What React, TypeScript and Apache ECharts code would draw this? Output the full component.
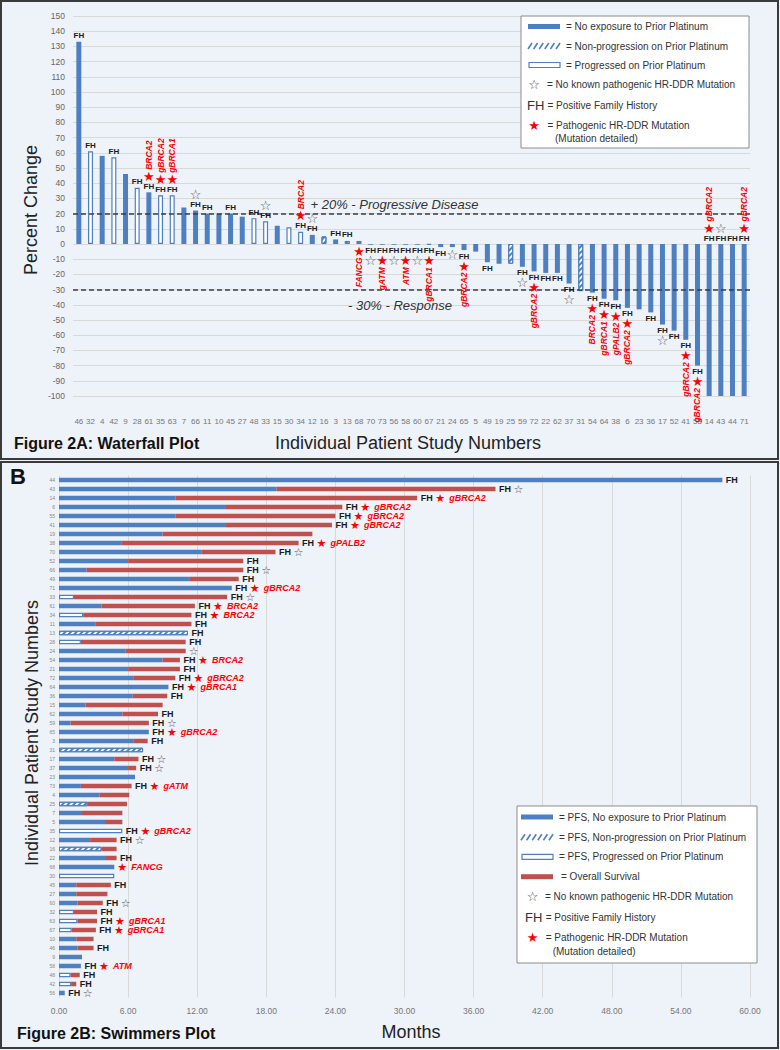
import React, { useEffect, useRef } from "react";
import * as echarts from "echarts";

// ---------- Waterfall (Figure 2A) ----------
const wfPatients = ["46","32","4","42","9","28","61","35","63","7","66","11","10","45","27","48","33","15","30","34","12","16","3","13","68","70","73","56","58","60","67","21","24","65","5","49","19","25","59","72","22","62","37","31","54","64","38","6","23","36","17","52","41","55","14","43","44","71"];
const wfChange = [133,61,58,57,46,37,34,32,32,24,22,20,20,20,18,17,15,12,11,8,6,5,3,2,2,-0.5,-0.5,-0.5,-0.5,-0.5,-0.5,-2,-2,-4,-5,-12,-13,-13,-15,-18,-19,-19,-26,-31,-32,-36,-37,-42,-43,-45,-53,-57,-63,-80,-100,-100,-100,-100];
const wfTicks = { min: -100, max: 150, step: 10 };
const thresholdLines = [20, -30];
const thresholdLabels = ["+ 20% - Progressive Disease", "- 30% - Response"];

// ---------- Swimmers (Figure 2B) ----------
const swPatients = ["44","43","14","6","55","41","19","38","70","52","66","49","71","33","61","34","11","13","28","24","54","21","72","64","36","15","62","59","65","3","31","17","37","23","73","4","25","7","5","35","12","16","22","68","30","45","27","60","32","63","67","10","46","9","58","48","42","56"];
const swPFS = [57.6,18.9,10.1,14.5,10.1,14.5,9.0,5.4,12.4,6.0,2.4,11.3,15.0,1.3,3.7,2.1,3.2,11.2,1.9,5.8,9.0,6.0,6.5,9.5,6.4,2.3,5.5,1.0,7.8,6.5,7.3,4.8,6.0,6.6,1.9,3.5,2.5,2.0,4.0,5.5,2.7,3.7,4.0,4.8,4.8,1.5,1.5,1.6,1.3,1.6,1.1,1.5,1.6,2.0,1.9,1.0,1.05,0.5];
const swOS = [57.6,37.9,31.1,24.6,24.0,23.7,22.0,20.8,18.8,16.0,16.0,15.6,15.0,14.6,11.8,11.5,11.5,11.2,11.0,11.0,10.5,10.5,10.1,9.5,9.4,9.0,8.6,7.8,7.8,7.7,7.3,6.9,6.7,6.6,6.3,6.1,5.9,5.5,5.5,5.5,5.0,5.0,5.0,4.8,4.8,4.5,4.2,3.8,3.3,3.3,3.2,3.0,3.0,2.0,1.9,1.8,1.5,0.5];
const monthTicks = { min: 0, max: 60, step: 6 };

// ---------- Patient attributes ----------
const hatchedPatients = ["13","31","25","16"];
const hollowPatients = ["32","42","28","35","63","48","33","30","34","67"];
const fhPatients = ["44","43","14","6","55","41","38","70","52","66","49","71","33","61","34","11","13","28","54","21","72","64","36","62","59","65","3","17","37","73","35","12","22","45","60","32","63","67","46","58","48","42","56"];
const noMutationPatients = ["43","70","66","33","24","59","17","37","12","60","56"];
const mutationPatients = ["14","6","55","41","38","71","61","34","54","72","64","65","73","35","68","63","67","58"];
const mutationGenes = ["gBRCA2","gBRCA2","gBRCA2","gBRCA2","gPALB2","gBRCA2","BRCA2","BRCA2","BRCA2","gBRCA2","gBRCA1","gBRCA2","gATM","gBRCA2","FANCG","gBRCA1","gBRCA1","ATM"];
const labelsBelowZero = ["68"];

const BLUE = "#4e7fc1";
const RED = "#c0504d";
const STAR_RED = "#ff0000";
const FONT = "Liberation Sans, Arial, sans-serif";
const BG = "#eef2f9";

const hatchDecal = {
  symbol: "rect",
  symbolSize: 1,
  color: BLUE,
  backgroundColor: "#ffffff",
  dashArrayX: [1, 0],
  dashArrayY: [2, 2],
  rotation: -Math.PI / 4,
};

function pfsStyle(pid: string): any {
  if (hatchedPatients.includes(pid)) return { color: "#ffffff", borderColor: BLUE, borderWidth: 1, decal: hatchDecal };
  if (hollowPatients.includes(pid)) return { color: "#ffffff", borderColor: BLUE, borderWidth: 1.2 };
  return { color: BLUE };
}

function txt(x: number, y: number, text: string, o: any = {}) {
  const align = o.align || "left";
  const va = o.verticalAlign || "middle";
  return {
    type: "text",
    x,
    y,
    rotation: o.rotation || 0,
    z: o.z ?? 100,
    silent: true,
    style: {
      text,
      fontSize: o.fontSize || 10,
      fontWeight: o.fontWeight || "normal",
      fontStyle: o.fontStyle || "normal",
      fontFamily: o.fontFamily || FONT,
      fill: o.fill || "#333",
      align,
      textAlign: align,
      verticalAlign: va,
      textVerticalAlign: va,
      lineHeight: o.lineHeight,
    },
  };
}

function hatchSwatch(x: number, y: number) {
  const els: any[] = [];
  for (let k = 0; k < 6; k++) {
    const sx = x + k * 5.6;
    els.push({ type: "line", z: 101, silent: true, shape: { x1: sx, y1: y + 3, x2: sx + 4, y2: y - 3 }, style: { stroke: BLUE, lineWidth: 1.6 } });
  }
  return els;
}

const STAR_FONT = "DejaVu Sans";

function legendA() {
  const L = 521, T = 16;
  return [
    { type: "rect", z: 99, silent: true, shape: { x: L, y: T, width: 228, height: 132 }, style: { fill: "#ffffff", stroke: "#8c8c8c", lineWidth: 1 } },
    { type: "rect", z: 101, silent: true, shape: { x: L + 7, y: T + 8, width: 32, height: 5 }, style: { fill: BLUE } },
    txt(L + 45, T + 10.5, "= No exposure to Prior Platinum"),
    ...hatchSwatch(L + 7, T + 30),
    txt(L + 45, T + 30, "= Non-progression on Prior Platinum"),
    { type: "rect", z: 101, silent: true, shape: { x: L + 8, y: T + 46.5, width: 31, height: 5 }, style: { fill: "#ffffff", stroke: BLUE, lineWidth: 1.2 } },
    txt(L + 45, T + 49, "= Progressed on Prior Platinum"),
    txt(L + 13, T + 68, "☆", { align: "center", fontFamily: STAR_FONT, fontSize: 13, fill: "#444" }),
    txt(L + 26, T + 68, "= No known pathogenic HR-DDR Mutation"),
    txt(L + 6, T + 89, "FH", { fontSize: 13, fill: "#333" }),
    txt(L + 26.5, T + 89, "= Positive Family History"),
    txt(L + 13, T + 109.5, "★", { align: "center", fontFamily: STAR_FONT, fontSize: 13, fill: STAR_RED }),
    txt(L + 26.5, T + 109.5, "= Pathogenic HR-DDR Mutation"),
    txt(L + 34, T + 122.5, "(Mutation detailed)"),
  ];
}

function legendB() {
  const L = 517, T = 806;
  return [
    { type: "rect", z: 99, silent: true, shape: { x: L, y: T, width: 240, height: 157 }, style: { fill: "#ffffff", stroke: "#8c8c8c", lineWidth: 1 } },
    { type: "rect", z: 101, silent: true, shape: { x: L + 4, y: T + 8.5, width: 32, height: 5 }, style: { fill: BLUE } },
    txt(L + 42, T + 11, "= PFS, No exposure to Prior Platinum"),
    ...hatchSwatch(L + 4, T + 31.3),
    txt(L + 42, T + 31.3, "= PFS, Non-progression on Prior Platinum"),
    { type: "rect", z: 101, silent: true, shape: { x: L + 5, y: T + 48.3, width: 31, height: 5 }, style: { fill: "#ffffff", stroke: BLUE, lineWidth: 1.2 } },
    txt(L + 42, T + 50.7, "= PFS, Progressed on Prior Platinum"),
    { type: "rect", z: 101, silent: true, shape: { x: L + 4, y: T + 68.2, width: 32, height: 5 }, style: { fill: RED } },
    txt(L + 44, T + 70.7, "= Overall Survival"),
    txt(L + 15.7, T + 90, "☆", { align: "center", fontFamily: STAR_FONT, fontSize: 13, fill: "#444" }),
    txt(L + 28, T + 90, "= No known pathogenic HR-DDR Mutation"),
    txt(L + 8, T + 111.3, "FH", { fontSize: 13, fill: "#333" }),
    txt(L + 28.7, T + 111.3, "= Positive Family History"),
    txt(L + 15.7, T + 131.7, "★", { align: "center", fontFamily: STAR_FONT, fontSize: 13, fill: STAR_RED }),
    txt(L + 28.7, T + 131.7, "= Pathogenic HR-DDR Mutation"),
    txt(L + 35.7, T + 145.7, "(Mutation detailed)"),
  ];
}

function wfAnnot(params: any, api: any) {
  const i = params.dataIndex;
  const pid = wfPatients[i];
  const v = wfChange[i];
  const forcedBelow = labelsBelowZero.includes(pid);
  const atZero = v <= wfTicks.min || forcedBelow;
  const up = forcedBelow ? false : v > 0 || v <= wfTicks.min;
  const pt = api.coord([i, atZero ? 0 : v]);
  const x = pt[0];
  const y0 = pt[1];
  const d = up ? -1 : 1;
  const fh = fhPatients.includes(pid);
  const open = noMutationPatients.includes(pid);
  const mi = mutationPatients.indexOf(pid);
  const kids: any[] = [];
  if (fh) kids.push(txt(x, y0 + d * 6, "FH", { align: "center", fontSize: 8, fontWeight: "bold", fill: "#1a1a1a", z: 0 }));
  if (open || mi >= 0) {
    const sy = y0 + d * (fh ? 16 : 7);
    kids.push(txt(x, sy, open ? "☆" : "★", { align: "center", fontFamily: STAR_FONT, fontSize: 13, fill: open ? "#555" : STAR_RED, z: 0, lineHeight: 10 }));
    if (mi >= 0) {
      kids.push(txt(x, sy + d * 6.5, mutationGenes[mi], { rotation: Math.PI / 2, align: up ? "left" : "right", fontSize: 8.5, fontWeight: "bold", fontStyle: "italic", fill: STAR_RED, z: 0 }));
    }
  }
  return { type: "group", children: kids };
}

function swAnnot(params: any, api: any) {
  const i = params.dataIndex;
  const pid = swPatients[i];
  const pt = api.coord([swOS[i], i]);
  const x0 = pt[0];
  const y = pt[1];
  const fh = fhPatients.includes(pid);
  const open = noMutationPatients.includes(pid);
  const mi = mutationPatients.indexOf(pid);
  const kids: any[] = [];
  if (fh) kids.push(txt(x0 + 3.5, y, "FH", { fontSize: 9, fontWeight: "bold", fill: "#1a1a1a", z: 0, lineHeight: 9 }));
  if (open || mi >= 0) {
    const sx = x0 + (fh ? 23 : 8);
    kids.push(txt(sx, y, open ? "☆" : "★", { align: "center", fontFamily: STAR_FONT, fontSize: 11, fill: open ? "#555" : STAR_RED, z: 0, lineHeight: 9 }));
    if (mi >= 0) kids.push(txt(sx + 9, y, mutationGenes[mi], { fontSize: 9, fontWeight: "bold", fontStyle: "italic", fill: STAR_RED, z: 0, lineHeight: 9 }));
  }
  return { type: "group", children: kids };
}

function buildOption(): any {
  const gridLine = { show: true, lineStyle: { color: "#d9d9d9", width: 1 } };
  const swOSRemainder = swOS.map((o, i) => Math.max(0, +(o - swPFS[i]).toFixed(2)));
  return {
    animation: false,
    backgroundColor: BG,
    textStyle: { fontFamily: FONT },
    grid: [
      { left: 73, top: 16, width: 677, height: 380 },
      { left: 59, top: 475.5, width: 691, height: 522 },
    ],
    xAxis: [
      {
        gridIndex: 0,
        type: "category",
        data: wfPatients,
        axisLine: { show: false, onZero: false },
        axisTick: { show: false },
        axisLabel: { interval: 0, fontSize: 8, color: "#777", margin: 21 },
      },
      {
        gridIndex: 1,
        type: "value",
        min: monthTicks.min,
        max: monthTicks.max,
        interval: monthTicks.step,
        axisLine: { show: false },
        axisTick: { show: false },
        splitLine: gridLine,
        axisLabel: { fontSize: 8.5, color: "#777", margin: 9, formatter: (v: number) => v.toFixed(2) },
      },
    ],
    yAxis: [
      {
        gridIndex: 0,
        type: "value",
        min: wfTicks.min,
        max: wfTicks.max,
        interval: wfTicks.step,
        axisLine: { show: false },
        axisTick: { show: false },
        splitLine: gridLine,
        axisLabel: { fontSize: 8.5, color: "#666", margin: 8 },
      },
      {
        gridIndex: 1,
        type: "category",
        data: swPatients,
        inverse: true,
        axisLine: { show: false },
        axisTick: { show: false },
        splitLine: { show: false },
        axisLabel: { interval: 0, fontSize: 5, color: "#888", margin: 4 },
      },
    ],
    series: [
      {
        type: "bar",
        xAxisIndex: 0,
        yAxisIndex: 0,
        barWidth: 5,
        data: wfChange.map((v, i) => ({ value: v, itemStyle: pfsStyle(wfPatients[i]) })),
        markLine: {
          silent: true,
          symbol: ["none", "none"],
          lineStyle: { type: [5, 3], color: "#3d3d3d", width: 1.5 },
          data: [
            {
              yAxis: thresholdLines[0],
              label: { show: true, position: "insideMiddleTop", formatter: thresholdLabels[0], fontStyle: "italic", fontSize: 13, color: "#333", distance: 3, padding: [0, 34, 0, 0] },
            },
            {
              yAxis: thresholdLines[1],
              label: { show: true, position: "insideMiddleBottom", formatter: thresholdLabels[1], fontStyle: "italic", fontSize: 13, color: "#333", distance: 9, padding: [0, 23, 0, 0] },
            },
          ],
        },
      },
      {
        type: "custom",
        xAxisIndex: 0,
        yAxisIndex: 0,
        z: 5,
        data: wfChange.map((v, i) => [i, v]),
        encode: { x: 0, y: 1 },
        renderItem: wfAnnot,
      },
      {
        type: "bar",
        xAxisIndex: 1,
        yAxisIndex: 1,
        stack: "sw",
        barWidth: 4.5,
        data: swPFS.map((v, i) => ({ value: v, itemStyle: pfsStyle(swPatients[i]) })),
      },
      {
        type: "bar",
        xAxisIndex: 1,
        yAxisIndex: 1,
        stack: "sw",
        barWidth: 4.5,
        itemStyle: { color: RED },
        data: swOSRemainder,
      },
      {
        type: "custom",
        xAxisIndex: 1,
        yAxisIndex: 1,
        z: 5,
        data: swOS.map((v, i) => [v, i]),
        encode: { x: 0, y: 1 },
        renderItem: swAnnot,
      },
    ],
    graphic: [
      { type: "rect", z: 120, silent: true, shape: { x: 1, y: 1, width: 777, height: 458 }, style: { fill: "none", stroke: "#3a3a3a", lineWidth: 2 } },
      { type: "rect", z: 120, silent: true, shape: { x: 1, y: 462, width: 777, height: 586 }, style: { fill: "none", stroke: "#3a3a3a", lineWidth: 2 } },
      ...legendA(),
      ...legendB(),
      txt(31, 210, "Percent Change", { rotation: Math.PI / 2, align: "center", fontSize: 18, fill: "#222" }),
      txt(408, 443, "Individual Patient Study Numbers", { align: "center", fontSize: 18, fill: "#222" }),
      txt(14, 443, "Figure 2A: Waterfall Plot", { fontSize: 16, fontWeight: "bold", fill: "#111" }),
      txt(10, 476, "B", { fontSize: 22, fontWeight: "bold", fill: "#111" }),
      txt(32, 733, "Individual Patient Study Numbers", { rotation: Math.PI / 2, align: "center", fontSize: 18, fill: "#222" }),
      txt(411, 1032, "Months", { align: "center", fontSize: 18, fill: "#222" }),
      txt(17, 1033, "Figure 2B: Swimmers Plot", { fontSize: 16, fontWeight: "bold", fill: "#111" }),
    ],
  };
}

export default function App() {
  const ref = useRef<HTMLDivElement>(null);
  useEffect(() => {
    if (!ref.current) return;
    const chart = echarts.init(ref.current, null, { renderer: "svg" });
    chart.setOption(buildOption());
    return () => chart.dispose();
  }, []);
  return <div ref={ref} style={{ position: "absolute", left: 0, top: 0, width: 780, height: 1050 }} />;
}
